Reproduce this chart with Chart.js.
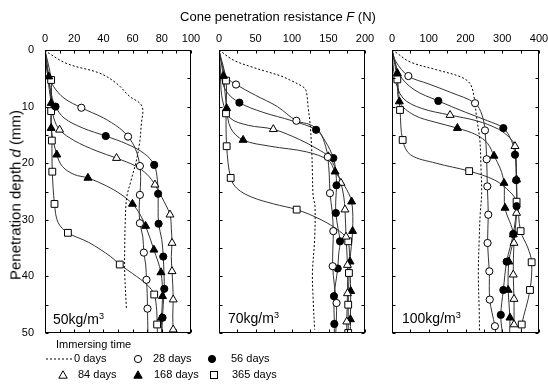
<!DOCTYPE html>
<html><head><meta charset="utf-8">
<script src="https://cdn.jsdelivr.net/npm/chart.js@4.4.1/dist/chart.umd.min.js"></script>
<style>
html,body{margin:0;padding:0;background:#fff;}
body{width:548px;height:385px;position:relative;overflow:hidden;font-family:"Liberation Sans",Arial,sans-serif;color:#000;}
canvas{position:absolute;left:0;top:0;}
.t{position:absolute;white-space:nowrap;line-height:1;}
.t svg{display:block;}
.c{transform:translate(-50%,-50%);}
sup{font-size:65%;vertical-align:0;position:relative;top:-0.6em;}
</style></head><body>
<canvas id="c0" width="548" height="385"></canvas>
<canvas id="c1" width="548" height="385"></canvas>
<canvas id="c2" width="548" height="385"></canvas>
<div class="t c" style="left:278px;top:16px;font-size:13px;">Cone penetration resistance <i>F</i> (N)</div>
<div class="t" style="left:15px;top:195px;font-size:15px;transform:translate(-50%,-50%) rotate(-90deg);">Penetration depth <i>d</i> (mm)</div>
<div id="panelLabels"></div>
<div id="legend"></div>
<script>
// ---------------- data ----------------
const seriesNames = ['0 days','28 days','56 days','84 days','168 days','365 days'];
const panelNames = ['50','70','100'];
const xTicks50 = [0,20,40,60,80,100];
const xTicks70 = [0,50,100,150,200];
const xTicks100 = [0,100,200,300,400];
const yTicks = [0,10,20,30,40,50];

// [F (N), d (mm), marker shown]
const d50_0 = [[0,0],[1,0.3],[15,2.4],[37.5,4.1],[49,5.9],[58,8.2],[65,9.4],[67,10.5],[66,13],[65,16],[62.7,19.4],[59,23],[56,26],[55,30],[54.6,35],[54.6,39.4],[55.8,45.9]];
const d50_28 = [[0,0,0],[1,2,0],[2.5,4.5,0],[6,6.5,0],[13,8.5,0],[24.9,10.2,1],[40,12,0],[51,13.8,0],[56.9,15.3,1],[62,17.5,0],[65,20.5,1],[65.5,23,0],[65,25.6,1],[64.5,28,0],[65,30.6,1],[67,33,0],[67.7,35.8,1],[69,38,0],[69.5,40.6,1],[70,43,0],[70.2,45.7,1],[70.5,50,0]];
const d50_56 = [[0,0,0],[1,3,0],[3,6,0],[5,8.5,0],[7.2,10,1],[13,12,0],[26,13.8,0],[41.6,15.2,1],[56,16.6,0],[68,18.3,0],[74.8,20.3,1],[77,23,0],[77.5,25.4,1],[77.5,28,0],[77.8,30.7,1],[80,33.5,0],[81,36.5,1],[81.5,39.5,0],[81.7,42.2,1],[81,45,0],[80.5,47.3,1],[80,50,0]];
const d50_84 = [[0,0,0],[2,5,0],[4,9,0],[6,12,0],[10,14.1,1],[20,16,0],[35,17.8,0],[49,19.1,1],[62,20.5,0],[70,22,0],[75.3,23.8,1],[80,26,0],[85.6,29.1,1],[86.5,31.5,0],[87,34.1,1],[86.5,36.5,0],[87,39.1,1],[87.5,41.5,0],[87.8,44.1,1],[87.5,47,0],[87.8,49.4,1]];
const d50_168 = [[0,0,0],[2.6,4.7,1],[4.2,9.4,1],[4.2,13.8,1],[8.1,18.5,1],[12,20.6,0],[20,22,0],[29.4,22.6,1],[42,24,0],[52,25.5,0],[59.9,27.2,1],[65,29,0],[68.9,31.1,1],[74.6,35.3,1],[79.4,39.3,1],[80.5,43.5,1],[79.8,47.3,1],[80,50,0]];
const d50_365 = [[0,0,0],[4.2,5.3,1],[4.2,10.8,1],[4.7,16,1],[5,21.5,1],[6.5,27.2,1],[9,30.5,0],[15.7,32.3,1],[30,34,0],[45,36.5,0],[51.2,37.9,1],[60,39.5,0],[70,41.5,0],[74.8,43.2,1],[76.5,46,0],[76.8,48.5,1],[77,50,0]];

const d70_0 = [[0,0],[20,1.8],[45,3],[65,3.8],[85,4.6],[97,5.3],[115,6.5],[119,7.1],[121,8.5],[122,10],[124.7,12.9],[127,17.6],[128,21.8],[129,25.9],[131.5,27.6],[131,33.5],[128,39.4],[129,44.1],[131,49.4]];
const d70_28 = [[0,0,0],[5,3,0],[12,5,0],[23.3,6.1,1],[50,8,0],[80,10,0],[106,12.5,1],[125,13.2,0],[138,14.5,0],[146,17,0],[149,18.9,1],[151,22,0],[152,25.3,1],[155,28.5,0],[156.6,32,1],[156,35,0],[155.7,38.2,1],[158,41.5,0],[161,44.7,1],[160,50,0]];
const d70_56 = [[0,0,0],[3,4.5,0],[10,7.3,0],[27.9,9.3,1],[60,11,0],[100,12.5,0],[133,14.1,1],[146,16.2,0],[156.6,19.1,1],[160,21.5,0],[161,23.9,1],[160,26.5,0],[160,28.8,1],[163,31.5,0],[165.8,33.8,1],[164,36,0],[162.6,38.6,1],[160,41,0],[157.5,43.5,1],[158,48.4,1],[158,50,0]];
const d70_84 = [[0,0,0],[2,5,0],[5,9,0],[15,12,0],[40,13.3,0],[74.4,14,1],[110,15.8,0],[135,17.5,0],[149.8,18.8,1],[160,21,0],[167,23.5,1],[171,26,0],[172.6,28.2,1],[174,33,1],[176,38,1],[176,43,1],[175,48,1],[175,50,0]];
const d70_168 = [[0,0,0],[6,4.6,1],[10.5,10.3,1],[16,13.8,0],[33,15.9,1],[70,17,0],[120,18,0],[150,19.5,0],[159,21.5,1],[172,24,0],[181.7,26.8,1],[183,32,1],[179.5,37.4,1],[180.4,42.6,1],[180,47.6,1],[180,50,0]];
const d70_365 = [[0,0,0],[9.6,5.4,1],[9.6,11.2,1],[10.5,17,1],[16,22.6,1],[25,24.5,0],[45,26,0],[75,27.2,0],[106.4,28.2,1],[140,30,0],[165,32,0],[177,33.8,1],[178,39.4,1],[177,45,1],[177,50,1]];

const d100_0 = [[0,0],[8,0.3],[49,2.1],[121.6,3.5],[185,4.7],[212,5.9],[223,8.2],[230,11.8],[239,15.9],[242,20.6],[244,25.3],[240,29],[237.6,32.9],[235,39.4],[237.6,47],[238,50]];
const d100_28 = [[0,0,0],[10,2,0],[44.5,4.6,1],[100,6,0],[160,7.5,0],[226,9.4,1],[245,11.5,0],[253,14.2,1],[257.6,19.3,1],[259.4,24.1,1],[262,29.1,1],[260,34.1,1],[264.8,39.1,1],[266,44.1,1],[280,48.8,1],[282,50,0]];
const d100_56 = [[0,0,0],[20,4.3,0],[60,7,0],[126,9,1],[200,11,0],[260,12.5,0],[303,13.8,1],[325,16,0],[334.7,18.5,1],[338,23,1],[339,27.6,1],[330,32.5,1],[312,37.4,1],[303,42.4,1],[296,46.8,1],[300,50,0]];
const d100_84 = [[0,0,0],[8,5,0],[30,8.5,0],[80,10.3,0],[158,11.5,1],[230,12.5,0],[290,14,0],[320,15.5,0],[334.7,17,1],[339,22.9,1],[339,28.8,1],[332,34.1,1],[330,39.7,1],[332,44,1],[332,48.5,1]];
const d100_168 = [[0,0,0],[14.5,4.1,1],[20,9.1,1],[60,11.5,0],[120,12.8,0],[178,13.8,1],[230,15,0],[260,16.5,0],[277.6,18.7,1],[295,21,0],[304.8,23.5,1],[307.5,27.9,1],[330,32.6,1],[318,37.4,1],[316,42.4,1],[321,47.3,1],[320,50,0]];
const d100_365 = [[0,0,0],[14.5,5.2,1],[21.8,10.6,1],[29,15.9,1],[50,18.5,0],[120,20,0],[210,21.4,1],[280,23,0],[320,25,0],[339,26.8,1],[350,32,1],[370,35,0],[380,37.5,1],[375.5,42.4,1],[353,48.5,1],[352,50,0]];

// ---------------- layout / style ----------------
const PANELS = [
  {series:[d50_0,d50_28,d50_56,d50_84,d50_168,d50_365], xTicks:xTicks50, minor:10, L:45, R:191, yLabels:true},
  {series:[d70_0,d70_28,d70_56,d70_84,d70_168,d70_365], xTicks:xTicks70, minor:25, L:219, R:365, yLabels:false},
  {series:[d100_0,d100_28,d100_56,d100_84,d100_168,d100_365], xTicks:xTicks100, minor:50, L:392, R:539, yLabels:false}
];
const TOP = 50, BOTTOM = 333, W = 548, H = 385, XH = 20, YW = 30, TL = 3;
const STYLES = [
  null,
  {style:'circle', r:3.6, fill:'#fff'},
  {style:'circle', r:3.6, fill:'#000'},
  {style:'triangle', r:4.6, fill:'#fff'},
  {style:'triangle', r:4.6, fill:'#000'},
  {style:'rect', r:4.8, fill:'#fff'}
];
const FONT = {family:'"Liberation Sans", Arial, sans-serif', size:11};

const framePlugin = {
  id:'frame',
  afterDraw(chart, args, opts){
    const {ctx, chartArea:a} = chart;
    const x = chart.scales.x, y = chart.scales.y;
    ctx.save();
    ctx.strokeStyle = '#000'; ctx.lineWidth = 1;
    const l = Math.round(a.left)+0.5, r = Math.round(a.right)-0.5, t = Math.round(a.top)+0.5, b = Math.round(a.bottom)-0.5;
    ctx.strokeRect(l, t, r-l, b-t);
    ctx.beginPath();
    const xmax = opts.xTicks[opts.xTicks.length-1];
    for (let v = 0; v <= xmax; v += opts.minor) {
      const px = Math.round(x.getPixelForValue(v))+0.5;
      ctx.moveTo(px, t); ctx.lineTo(px, t+TL);
      ctx.moveTo(px, b); ctx.lineTo(px, b-TL);
    }
    for (let v = 0; v <= 50; v += 5) {
      const py = Math.round(y.getPixelForValue(v))+0.5;
      ctx.moveTo(l, py); ctx.lineTo(l+TL, py);
      ctx.moveTo(r, py); ctx.lineTo(r-TL, py);
    }
    ctx.stroke();
    ctx.restore();
  }
};

PANELS.forEach((p, k) => {
  const datasets = [];
  p.series.forEach((arr, i) => {
    datasets.push({
      data: arr.map(q => ({x:q[0], y:q[1]})),
      showLine: true,
      borderColor: i === 0 ? '#000' : '#333',
      borderWidth: 1,
      borderDash: i === 0 ? [2,2] : [],
      pointRadius: 0,
      tension: 0.35,
      order: 2
    });
    if (i > 0) {
      const s = STYLES[i];
      datasets.push({
        data: arr.filter(q => q[2]).map(q => ({x:q[0], y:q[1]})),
        showLine: false,
        pointStyle: s.style,
        pointRadius: s.r,
        backgroundColor: s.fill,
        borderColor: '#000',
        pointBorderWidth: 1,
        order: 1
      });
    }
  });
  const xmax = p.xTicks[p.xTicks.length-1];
  new Chart(document.getElementById('c'+k), {
    type: 'scatter',
    data: {datasets},
    plugins: [framePlugin],
    options: {
      responsive: false, animation: false, events: [],
      layout: {padding: {left: p.L - YW, right: W - p.R, top: TOP - XH, bottom: H - BOTTOM}},
      plugins: {legend:{display:false}, tooltip:{enabled:false}, frame:{xTicks:p.xTicks, minor:p.minor}},
      scales: {
        x: {
          type:'linear', position:'top', min:0, max:xmax,
          grid:{display:false}, border:{display:false},
          ticks:{font:FONT, color:'#000', padding:-4, maxRotation:0},
          afterBuildTicks: s => { s.ticks = p.xTicks.map(v => ({value:v})); },
          afterFit: s => { s.height = XH; s.paddingLeft = 0; s.paddingRight = 0; }
        },
        y: {
          type:'linear', position:'left', min:0, max:50, reverse:true,
          grid:{display:false}, border:{display:false},
          ticks:{display:p.yLabels, font:FONT, color:'#000', padding:3},
          afterBuildTicks: s => { s.ticks = yTicks.map(v => ({value:v})); },
          afterFit: s => { s.width = YW; s.paddingTop = 0; s.paddingBottom = 0; }
        }
      }
    }
  });
});

// panel labels
const plPos = [[53,319],[228,318],[402,318]];
document.getElementById('panelLabels').innerHTML = panelNames.map((n,k) =>
  `<div class="t" style="left:${plPos[k][0]}px;top:${plPos[k][1]-7}px;font-size:14px;">${n}kg/m<sup>3</sup></div>`).join('');

// legend
function icon(i){
  if (i === 0) return `<svg width="26" height="6"><line x1="0" y1="3" x2="26" y2="3" stroke="#000" stroke-width="1" stroke-dasharray="2,2"/></svg>`;
  const s = STYLES[i];
  let shape;
  if (s.style === 'circle') shape = `<circle cx="5" cy="5" r="3.6" fill="${s.fill}" stroke="#000"/>`;
  else if (s.style === 'triangle') shape = `<polygon points="5,0.8 9.2,8.2 0.8,8.2" fill="${s.fill}" stroke="#000"/>`;
  else shape = `<rect x="1.5" y="1.5" width="7" height="7" fill="${s.fill}" stroke="#000"/>`;
  return `<svg width="10" height="10">${shape}</svg>`;
}
const legPos = [ // icon left, icon centerY, text left
  [46,359,74],[133,359,153],[207,359,231],
  [58,375,78],[133,375,154],[209,375,232]
];
let lh = `<div class="t" style="left:56px;top:339px;font-size:11px;">Immersing time</div>`;
seriesNames.forEach((n,i) => {
  const [il, iy, tl] = legPos[i];
  const ih = i === 0 ? 6 : 10;
  lh += `<div class="t" style="left:${il}px;top:${iy-ih/2}px;">${icon(i)}</div>`;
  lh += `<div class="t" style="left:${tl}px;top:${iy-6}px;font-size:11px;">${n}</div>`;
});
document.getElementById('legend').innerHTML = lh;
</script>
</body></html>
